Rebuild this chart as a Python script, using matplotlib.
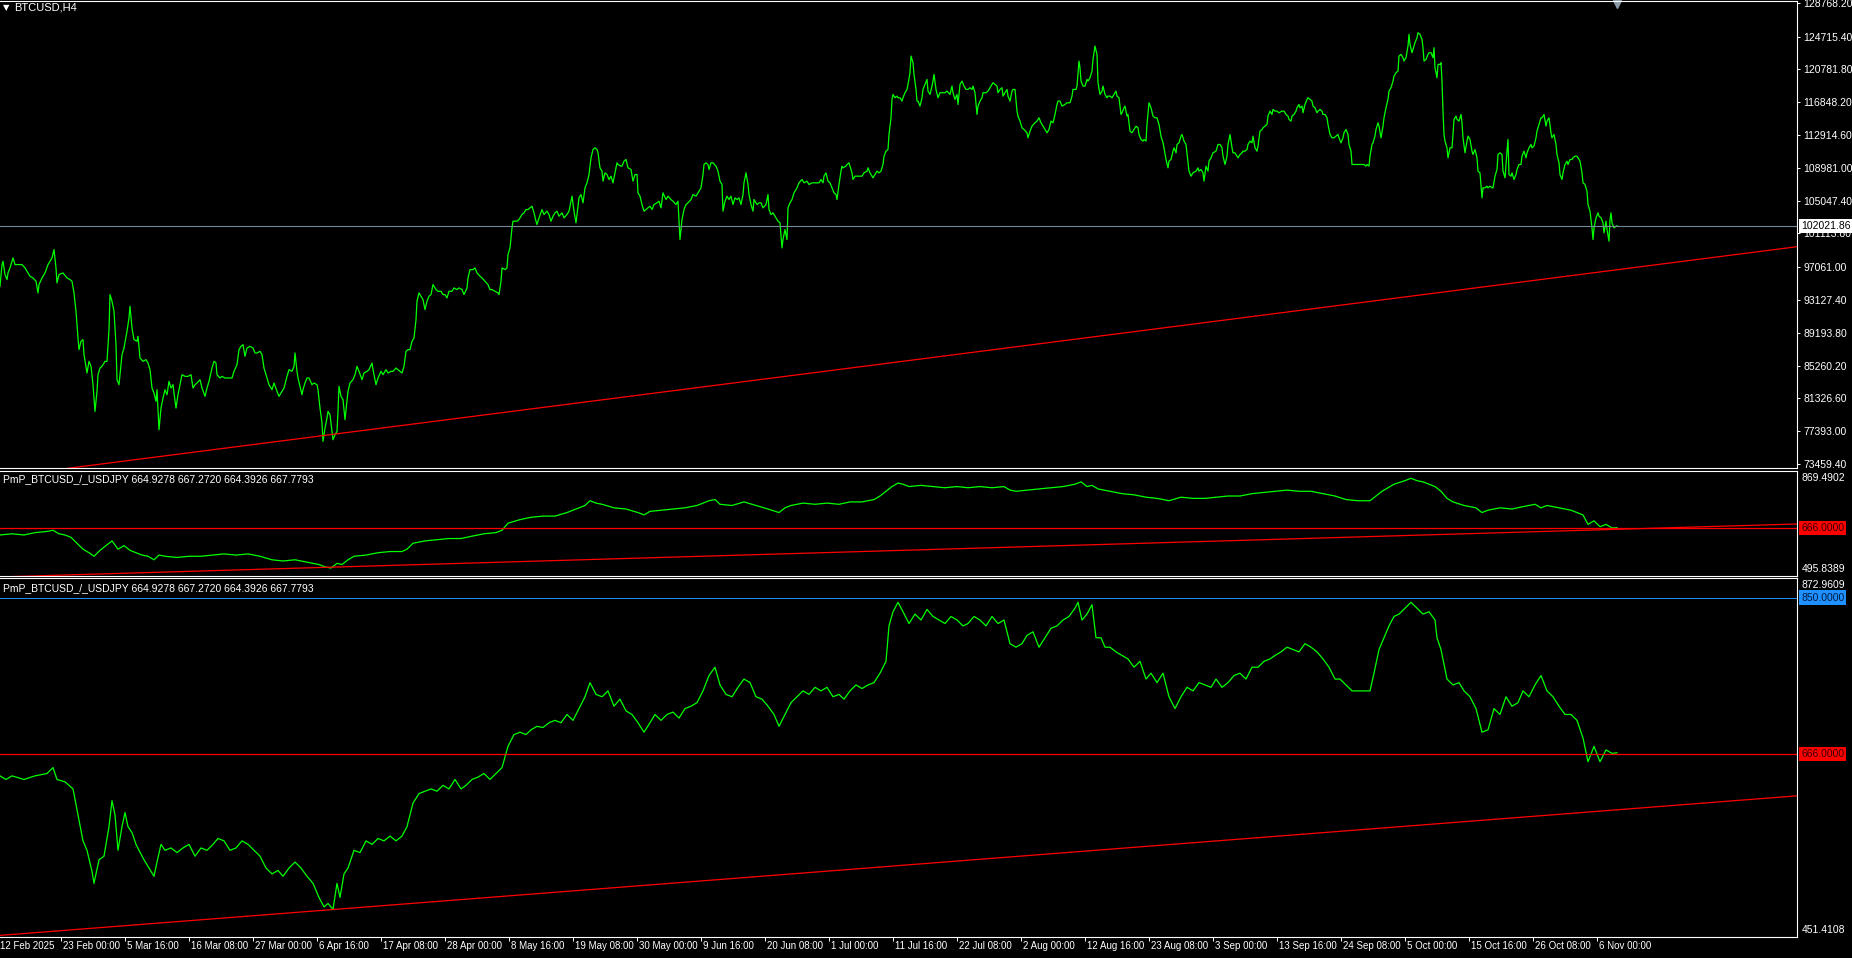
import matplotlib
matplotlib.use("Agg")
import matplotlib.pyplot as plt

plt.rcParams["font.family"] = ["Liberation Sans Narrow", "Liberation Sans", "DejaVu Sans"]

W, H = 1852, 958
PLOT_R = 1797  # right edge of the price panels, px

# BTCUSD H4 close, (bar index, price); bar 0 = 12 Feb 2025 20:00
btc = [
    (0, 94770), (2, 97370), (3, 97770), (5, 96170), (7, 95570), (8, 96370), (10, 96970), (13, 98170),
    (15, 97370), (18, 97370), (22, 97370), (25, 96970), (27, 96570), (30, 95970), (33, 95770), (36, 95370),
    (38, 93970), (39, 94970), (42, 95770), (45, 96370), (48, 97370), (52, 98170), (54, 99170), (56, 96970),
    (57, 95170), (59, 96170), (63, 96370), (67, 95770), (70, 95570), (72, 95370), (74, 93970), (76, 91770),
    (78, 88570), (79, 87170), (81, 88170), (83, 88370), (84, 86570), (87, 84370), (89, 85770), (91, 85170),
    (93, 82970), (95, 79770), (97, 82170), (98, 84170), (100, 84970), (102, 85170), (105, 85770), (107, 85770),
    (109, 89570), (110, 93770), (112, 92970), (114, 91770), (116, 87770), (117, 83570), (119, 82970), (122, 86570),
    (124, 87370), (127, 89370), (129, 90970), (130, 92370), (132, 89770), (134, 88370), (137, 88170), (138, 88770),
    (140, 86170), (143, 85770), (146, 85970), (148, 85570), (150, 84770), (152, 82570), (154, 81970), (156, 80970),
    (157, 82370), (159, 77570), (161, 80170), (163, 81370), (165, 82370), (167, 81770), (169, 83370), (171, 82570),
    (173, 82970), (174, 81970), (176, 80170), (178, 81770), (180, 82970), (182, 84170), (185, 83970), (188, 83970),
    (191, 84170), (193, 82570), (195, 82970), (197, 83170), (200, 83570), (202, 82570), (205, 81570), (207, 82570),
    (209, 83370), (212, 84970), (214, 85770), (216, 85570), (217, 84170), (220, 83770), (222, 83970), (225, 83770),
    (228, 83770), (232, 83770), (234, 84570), (237, 85370), (239, 87170), (241, 87570), (243, 87770), (245, 86370),
    (247, 87370), (250, 87570), (253, 87370), (255, 86770), (257, 86770), (260, 86970), (262, 86570), (264, 84970),
    (267, 83770), (269, 82970), (272, 82370), (274, 83170), (277, 82170), (279, 81570), (282, 82170), (284, 82570),
    (287, 83970), (289, 84770), (292, 84570), (294, 85170), (295, 86770), (297, 84570), (298, 83770), (300, 82770),
    (302, 81770), (303, 82370), (305, 83170), (307, 83770), (309, 83770), (312, 82970), (314, 83170), (317, 82970),
    (318, 82370), (320, 80170), (322, 78370), (323, 76170), (325, 77770), (327, 78970), (328, 79770), (330, 79370),
    (332, 77370), (333, 76370), (335, 76970), (337, 77370), (338, 79770), (339, 82770), (341, 81570), (343, 81170),
    (345, 78770), (347, 80970), (348, 82170), (350, 83170), (353, 83570), (355, 84170), (357, 85170), (359, 84570),
    (362, 83570), (364, 84370), (367, 84570), (369, 84770), (372, 85570), (373, 84770), (376, 82970), (378, 83770),
    (381, 84570), (383, 84170), (386, 84770), (388, 84370), (391, 84570), (393, 84570), (396, 84970), (398, 84770),
    (402, 84370), (404, 85170), (406, 86970), (408, 87170),
    (410, 87170), (412, 88170), (414, 88570), (416, 90770), (417, 92970), (419, 93970), (421, 93570), (423, 93170),
    (425, 91970), (427, 92970), (429, 93570), (431, 93770), (433, 94970), (436, 94370), (438, 94170), (441, 94170),
    (443, 93770), (445, 93770), (447, 93370), (449, 94170), (452, 94170), (454, 94570), (457, 94370), (459, 94570),
    (462, 94370), (464, 93770), (467, 94570), (468, 95770), (470, 96770), (473, 96770), (475, 96970), (477, 96370),
    (480, 95970), (482, 95770), (485, 95370), (488, 94970), (490, 94370), (492, 94370), (495, 94170), (498, 93970),
    (499, 93770), (501, 95370), (502, 96970), (505, 96770), (507, 96970), (508, 98570), (510, 99370), (512, 101770),
    (513, 102570), (515, 102570), (517, 102570), (519, 102770), (522, 103370), (524, 103570), (526, 103970), (528, 103970),
    (530, 104170), (532, 104370), (534, 103570), (536, 102570), (537, 102170), (539, 102970), (542, 103970), (544, 103370),
    (547, 103770), (549, 103370), (551, 102570), (553, 103170), (555, 103570), (557, 103770), (559, 103170), (562, 103570),
    (564, 102970), (567, 103370), (569, 103770), (571, 104970), (572, 105570), (574, 103770), (576, 102370), (578, 104370),
    (579, 105370), (581, 105770), (583, 104770), (585, 106570), (587, 107170), (589, 108170), (591, 110170), (593, 111170),
    (595, 111370), (597, 111170), (598, 110770), (600, 108970), (602, 108570), (603, 107370), (605, 108370), (607, 108170),
    (609, 107570), (611, 107970), (613, 107170), (615, 108370), (617, 109570), (618, 109370), (621, 109170), (622, 109170),
    (624, 109770), (626, 109970), (628, 108970), (631, 108770), (633, 107370), (635, 108170), (637, 108170), (638, 105970),
    (640, 105570), (642, 104570), (644, 103770), (646, 103970), (648, 104170), (650, 104370), (652, 103970), (654, 104570),
    (657, 104770), (659, 104970), (661, 104170), (663, 105970), (666, 105170), (668, 105570), (671, 105170), (673, 104970),
    (676, 104570), (678, 104970), (679, 102570), (680, 100370), (682, 102770), (684, 103970), (686, 104570), (688, 104770),
    (691, 105170), (693, 105770), (696, 105570), (698, 105970), (701, 106570), (703, 108170), (704, 109370), (706, 109570),
    (708, 109370), (709, 108770), (711, 109570), (713, 109570), (716, 109170), (718, 108570), (720, 107370), (722, 106970),
    (723, 103770), (725, 104970), (727, 105570), (729, 105170), (731, 105570), (733, 104570), (735, 105370), (737, 105170),
    (739, 105370), (741, 104570), (743, 105770), (744, 107170), (746, 108370), (748, 106970), (749, 105770), (751, 104570),
    (753, 103770), (754, 105170), (757, 104570), (759, 104770), (761, 104770), (763, 104170), (766, 104570), (768, 105770),
    (769, 103970), (771, 103370), (773, 103570), (776, 102970), (778, 102570), (780, 102370), (782, 99370), (783, 100370),
    (785, 101570), (787, 100370), (788, 104170), (790, 104770), (792, 105170), (794, 105970), (797, 106570), (799, 107170),
    (802, 107570), (804, 107170), (807, 107370), (809, 106970), (812, 107170), (814, 107170),
    (817, 107170), (819, 107170), (821, 107570), (823, 107170), (824, 107970), (826, 108370), (828, 107370), (830, 107170),
    (832, 106570), (834, 105970), (836, 105770), (837, 105170), (839, 106970), (841, 108570), (842, 109170), (843, 108970),
    (846, 109170), (847, 109370), (849, 109570), (851, 108770), (852, 108370), (853, 107570), (855, 107970), (857, 107970),
    (860, 107970), (862, 107970), (864, 108370), (867, 108570), (868, 108970), (870, 108370), (872, 107970), (873, 107770),
    (875, 108170), (877, 108570), (879, 108370), (881, 108570), (883, 109370), (884, 110370), (886, 110970), (888, 111170),
    (889, 112970), (891, 114970), (892, 117170), (893, 117770), (895, 117370), (897, 117570), (898, 117370), (900, 117370),
    (902, 116970), (903, 117370), (905, 117970), (907, 118370), (908, 118970), (910, 120370), (911, 122370), (913, 121570),
    (914, 120170), (916, 118370), (917, 116970), (918, 116970), (920, 116370), (922, 117370), (923, 118370), (925, 118970),
    (927, 119570), (928, 118170), (930, 117770), (932, 118770), (933, 119370), (934, 120170), (936, 118370), (938, 117370),
    (940, 117970), (942, 117970), (945, 117970), (947, 118170), (950, 117770), (952, 118770), (953, 117970), (955, 117170),
    (957, 117770), (958, 116570), (960, 118970), (962, 119370), (964, 118770), (966, 118370), (968, 118370), (970, 118570),
    (972, 118370), (973, 118770), (975, 117970), (977, 115370), (978, 116370), (980, 116970), (982, 117370), (983, 117970),
    (986, 117970), (988, 118170), (990, 118570), (992, 118970), (993, 119170), (995, 118970), (997, 118770), (998, 117970),
    (1000, 118370), (1002, 118570), (1003, 117570), (1005, 117970), (1007, 118370), (1008, 117570), (1010, 116970),
    (1012, 118170), (1013, 118370), (1015, 118370), (1017, 115770), (1018, 115170), (1020, 114570), (1022, 113770),
    (1024, 113570), (1027, 113170), (1028, 112570), (1030, 113370), (1032, 113970), (1035, 114370), (1037, 114570),
    (1039, 114970), (1041, 114370), (1043, 113970), (1045, 113570), (1047, 113170), (1049, 113570), (1051, 114570),
    (1053, 114370), (1055, 115370), (1057, 116570), (1058, 116970), (1060, 116970), (1062, 116370), (1065, 116570),
    (1067, 116770), (1070, 116770), (1072, 117570), (1073, 118370), (1076, 118370), (1077, 118770), (1079, 121770),
    (1080, 120970), (1081, 119370), (1083, 118770), (1085, 118770), (1087, 119570), (1088, 119370), (1090, 119770),
    (1092, 120570), (1093, 121970), (1095, 123570), (1097, 122570), (1098, 119170), (1100, 117770), (1102, 118170),
    (1103, 118770), (1105, 117770), (1107, 117370), (1108, 117570), (1110, 117570), (1112, 117370), (1114, 117770),
    (1116, 118170), (1117, 117570), (1119, 117370), (1121, 115370), (1122, 115570), (1124, 116170), (1125, 116370),
    (1127, 115170), (1128, 115370), (1130, 113370), (1132, 113170), (1134, 113570), (1136, 113970), (1138, 113770),
    (1139, 112970), (1141, 112370), (1143, 112170), (1144, 112370), (1146, 112170), (1147, 114170), (1149, 116770),
    (1151, 116170), (1153, 115170), (1155, 114970), (1157, 114970), (1159, 114170), (1161, 112770), (1163, 111970),
    (1164, 111370), (1166, 109970), (1168, 108970), (1169, 109770), (1171, 109970), (1173, 110970), (1174, 111370),
    (1176, 110770), (1177, 111770), (1179, 111970), (1181, 112770), (1182, 112970), (1184, 112170), (1186, 111770),
    (1188, 109570), (1189, 108570), (1191, 107970), (1193, 108370), (1196, 108570), (1198, 108970), (1199, 108570),
    (1201, 108770), (1203, 108370), (1204, 107370), (1206, 109170), (1208, 108570), (1209, 109770), (1211, 110170),
    (1213, 110770), (1216, 110970), (1218, 111770), (1220, 111770),
    (1222, 111370), (1223, 110370), (1225, 109370), (1227, 110370), (1228, 111770), (1230, 112970), (1232, 111370),
    (1233, 110770), (1235, 110770), (1237, 110370), (1238, 110170), (1240, 110570), (1242, 110770), (1243, 110970),
    (1245, 110970), (1247, 111170), (1248, 111770), (1250, 112170), (1252, 111970), (1253, 112770), (1255, 111370),
    (1257, 110970), (1258, 111570), (1260, 113370), (1262, 113570), (1263, 113770), (1265, 113970), (1267, 114170),
    (1268, 115170), (1270, 115770), (1272, 115370), (1273, 115970), (1275, 115770), (1277, 115770), (1279, 115570),
    (1282, 115770), (1284, 115770), (1286, 115370), (1288, 115170), (1289, 114770), (1291, 114570), (1292, 115170),
    (1294, 115370), (1296, 115770), (1297, 116170), (1299, 116570), (1300, 116170), (1302, 116370), (1303, 115570),
    (1305, 116570), (1307, 117170), (1308, 117370), (1310, 117170), (1312, 116970), (1313, 116370), (1315, 116170),
    (1317, 115570), (1318, 115770), (1320, 115970), (1322, 115770), (1323, 115370), (1325, 115370), (1327, 114970),
    (1328, 114170), (1330, 112970), (1332, 112570), (1334, 112570), (1336, 112770), (1338, 112970), (1339, 112570),
    (1341, 111970), (1343, 112570), (1344, 113170), (1346, 113570), (1348, 112970), (1349, 111770), (1351, 110970),
    (1352, 109370), (1354, 109370), (1357, 109370), (1359, 109370), (1362, 109370), (1364, 109370), (1366, 109170),
    (1367, 109370), (1369, 109170), (1370, 110370), (1372, 111770), (1373, 111970), (1375, 112770), (1376, 113570),
    (1378, 114370), (1379, 113970), (1381, 112570), (1383, 113970), (1384, 114970), (1386, 116170), (1388, 117170),
    (1389, 118170), (1391, 118570), (1393, 119370), (1394, 119970), (1396, 120370), (1398, 120570), (1399, 122370),
    (1401, 122570), (1403, 122170), (1404, 121770), (1406, 122170), (1408, 123570), (1409, 124970), (1410, 123770),
    (1412, 122770), (1413, 123170), (1415, 123970), (1417, 124570), (1418, 125170), (1420, 124970), (1422, 124370),
    (1423, 123370), (1424, 121770), (1426, 121970), (1428, 122570), (1429, 122770), (1431, 122770), (1433, 122170),
    (1434, 123370), (1435, 120970), (1437, 119770), (1438, 121370), (1440, 121370), (1441, 121570), (1442, 119370),
    (1443, 115770), (1444, 112970), (1445, 112170), (1447, 111370), (1448, 110170), (1450, 111370), (1452, 111370),
    (1453, 112970), (1454, 114770), (1456, 115170), (1457, 114770), (1459, 114570), (1461, 115370), (1462, 114370),
    (1463, 112570), (1465, 110770), (1467, 112170), (1468, 112770), (1470, 112370), (1472, 110970), (1473, 110570),
    (1475, 111170), (1477, 110170), (1478, 108570), (1480, 108370), (1482, 105370), (1483, 106570), (1485, 106570),
    (1487, 106770), (1488, 106570), (1490, 106770), (1492, 106570), (1493, 106570), (1495, 107970), (1497, 108770),
    (1498, 110570), (1500, 110770), (1502, 110570), (1503, 108570), (1505, 107770), (1507, 110970), (1508, 112370),
    (1509, 108170), (1511, 107970), (1512, 108370), (1514, 107570), (1516, 108170), (1517, 108770), (1519, 109370),
    (1521, 109370), (1522, 110370), (1524, 110970), (1526, 110170), (1527, 110770), (1529, 111370), (1531, 111770),
    (1532, 111370), (1534, 111570), (1536, 112570), (1537, 113370), (1539, 114170), (1541, 114970), (1542, 114970),
    (1544, 115370), (1546, 113970), (1547, 114570), (1549, 114970), (1551, 113170), (1552, 112570), (1554, 112970),
    (1556, 111770), (1557, 110570), (1559, 109570), (1560, 108170), (1562, 107570), (1563, 108370), (1565, 109370),
    (1567, 109770), (1568, 109370), (1570, 109970), (1572, 109970), (1573, 110170), (1575, 110370), (1577, 110370),
    (1578, 110170), (1580, 109770), (1582, 108370), (1583, 107170), (1585, 106970), (1587, 106170), (1588, 104570),
    (1590, 103770), (1592, 101770), (1593, 100370), (1594, 101770), (1596, 102970), (1598, 103570), (1599, 103170),
    (1601, 102970), (1603, 102370), (1604, 101170), (1606, 102570), (1607, 101570), (1609, 100170), (1610, 102770),
    (1611, 103570), (1612, 102370), (1614, 101770), (1616, 101970), (1617, 102022),
]

# PmP_BTCUSD_/_USDJPY close as drawn in indicator window 1, (bar index, value)
ratio_mid = [
    (0, 641.8), (12, 646.0), (24, 641.8), (35, 650.2), (47, 654.4), (53, 658.6), (59, 646.0), (65, 641.8),
    (71, 633.4), (77, 612.4), (83, 591.3), (89, 578.7), (94, 566.1), (100, 587.1), (106, 604.0), (112, 620.8),
    (118, 591.3), (124, 604.0), (130, 587.1), (136, 578.7), (142, 570.3), (148, 566.1), (154, 553.5), (159, 570.3),
    (165, 566.1), (177, 561.9), (189, 566.1), (201, 566.1), (213, 570.3), (224, 574.5), (236, 570.3), (248, 574.5),
    (260, 566.1), (272, 553.5), (283, 549.3), (295, 553.5), (307, 545.1), (319, 536.7), (325, 528.3), (331, 524.1),
    (337, 540.9), (342, 536.7), (348, 553.5), (354, 566.1), (366, 570.3), (378, 578.7), (390, 582.9), (402, 582.9),
    (407, 591.3), (413, 612.4), (425, 620.8), (437, 625.0), (449, 629.2), (461, 629.2), (472, 637.6), (484, 646.0),
    (496, 650.2), (502, 658.6), (508, 683.8), (520, 696.4), (531, 704.8), (543, 709.0), (555, 709.0), (567, 721.6),
    (579, 738.4), (585, 746.8), (590, 763.7), (596, 755.3), (602, 751.0), (614, 738.4), (626, 734.2), (638, 721.6),
    (644, 713.2), (650, 725.8), (661, 730.0), (673, 734.2), (685, 738.4), (697, 746.8), (709, 763.7), (715, 767.9),
    (720, 751.0), (732, 746.8), (744, 759.5), (756, 746.8), (768, 734.2), (779, 721.6), (785, 738.4), (791, 746.8),
    (803, 755.3), (815, 751.0), (827, 755.3), (839, 751.0), (850, 759.5), (862, 759.5), (874, 767.9), (880, 780.5),
    (886, 797.3), (892, 814.1), (898, 826.7), (903, 822.5), (909, 814.1), (921, 818.3), (933, 814.1), (945, 809.9),
    (957, 814.1), (968, 809.9), (980, 814.1), (992, 809.9), (1004, 814.1), (1010, 801.5), (1016, 797.3), (1027, 801.5),
    (1039, 805.7), (1051, 809.9), (1063, 814.1), (1075, 822.5), (1081, 830.9), (1087, 814.1), (1092, 818.3),
    (1098, 805.7), (1110, 797.3), (1122, 788.9), (1134, 784.7), (1146, 776.3), (1157, 772.1), (1169, 763.7),
    (1181, 776.3), (1193, 772.1), (1205, 772.1), (1216, 776.3), (1228, 780.5), (1240, 780.5), (1252, 788.9),
    (1264, 793.1), (1275, 797.3), (1287, 801.5), (1299, 797.3), (1311, 797.3), (1323, 788.9), (1335, 780.5),
    (1346, 767.9), (1358, 763.7), (1370, 763.7), (1376, 780.5), (1382, 797.3), (1388, 809.9), (1394, 822.5),
    (1405, 835.1), (1411, 843.5), (1417, 835.1), (1423, 830.9), (1429, 822.5), (1435, 814.1), (1441, 797.3),
    (1447, 772.1), (1453, 759.5), (1464, 746.8), (1476, 738.4), (1482, 721.6), (1488, 730.0), (1500, 738.4),
    (1512, 734.2), (1523, 742.6), (1535, 751.0), (1541, 738.4), (1547, 746.8), (1559, 738.4), (1571, 730.0),
    (1583, 713.2), (1588, 679.6), (1594, 692.2), (1600, 671.2), (1606, 679.6), (1612, 667.0), (1617, 667.78),
]

# PmP_BTCUSD_/_USDJPY close as drawn in indicator window 2, (bar index, value)
ratio_bot = [
    (0, 640.6), (6, 636.4), (12, 640.6), (24, 636.4), (35, 640.6), (47, 643.4), (53, 650.3), (57, 636.4),
    (65, 633.6), (73, 625.3), (78, 594.8), (83, 564.3), (87, 553.2), (92, 528.3), (94, 514.4), (99, 542.1),
    (104, 546.3), (109, 581.0), (112, 611.5), (115, 594.8), (118, 553.2), (122, 581.0), (125, 597.6), (128, 581.0),
    (132, 574.0), (136, 560.2), (139, 553.2), (144, 542.1), (149, 532.4), (154, 522.7), (157, 539.4), (161, 560.2),
    (165, 553.2), (171, 556.0), (177, 550.5), (183, 556.0), (189, 560.2), (195, 546.3), (201, 556.0), (207, 553.2),
    (213, 560.2), (218, 567.1), (224, 564.3), (230, 553.2), (236, 556.0), (242, 564.3), (248, 560.2), (254, 553.2),
    (260, 546.3), (266, 532.4), (272, 525.5), (278, 529.6), (283, 522.7), (289, 532.4), (295, 539.4), (301, 532.4),
    (307, 522.7), (313, 514.4), (319, 497.8), (324, 486.7), (328, 490.8), (333, 483.9), (337, 514.4), (340, 497.8),
    (344, 525.5), (348, 532.4), (354, 553.2), (360, 550.5), (366, 564.3), (372, 560.2), (378, 567.1), (384, 564.3),
    (390, 569.9), (396, 564.3), (402, 569.9), (407, 581.0), (413, 608.7), (419, 619.8), (425, 622.6), (431, 625.3),
    (437, 622.6), (443, 629.5), (449, 625.3), (455, 636.4), (461, 625.3), (466, 629.5), (472, 636.4), (478, 639.2),
    (484, 643.4), (490, 636.4), (496, 643.4), (502, 650.3), (508, 675.3), (514, 689.1), (520, 691.9), (526, 689.1),
    (531, 694.7), (537, 698.8), (543, 697.4), (549, 703.0), (555, 705.8), (561, 703.0), (567, 712.7), (573, 705.8),
    (579, 719.6), (585, 733.5), (590, 750.1), (596, 736.3), (602, 733.5), (608, 740.4), (614, 722.4), (620, 730.7),
    (626, 716.9), (632, 712.7), (638, 703.0), (644, 691.9), (650, 703.0), (655, 712.7), (661, 705.8), (667, 712.7),
    (673, 715.5), (679, 708.5), (685, 719.6), (691, 722.4), (697, 726.6), (703, 740.4), (709, 758.4), (715, 768.2),
    (720, 747.4), (726, 736.3), (732, 733.5), (738, 744.6), (744, 754.3), (750, 750.1), (756, 733.5), (762, 730.7),
    (768, 722.4), (774, 712.7), (779, 698.8), (785, 712.7), (791, 726.6), (797, 733.5), (803, 740.4), (809, 736.3),
    (815, 744.6), (821, 740.4), (827, 744.6), (833, 733.5), (839, 736.3), (844, 730.7), (850, 740.4), (856, 747.4),
    (862, 743.2), (868, 747.4), (874, 750.1), (880, 761.2), (886, 775.1), (889, 816.7), (893, 833.3), (898, 844.4),
    (903, 833.3), (909, 819.5), (915, 830.6), (921, 823.6), (927, 836.1), (933, 827.8), (939, 823.6), (945, 819.5),
    (951, 827.8), (957, 823.6), (963, 816.7), (968, 819.5), (974, 827.8), (980, 823.6), (986, 816.7), (992, 827.8),
    (998, 819.5), (1004, 823.6), (1010, 795.9), (1016, 791.7), (1022, 795.9), (1027, 805.6), (1033, 809.8),
    (1039, 791.7), (1045, 802.8), (1051, 813.9), (1057, 816.7), (1063, 823.6), (1069, 827.8), (1075, 837.5),
    (1078, 844.4), (1082, 823.6), (1087, 830.6), (1092, 841.6), (1096, 802.8), (1101, 802.8), (1105, 791.7),
    (1110, 791.7), (1116, 786.2), (1122, 782.0), (1128, 777.9), (1134, 768.2), (1140, 775.1), (1146, 754.3),
    (1151, 761.2), (1157, 750.1), (1163, 761.2), (1169, 733.5), (1175, 719.6), (1181, 733.5), (1187, 744.6),
    (1193, 740.4), (1199, 750.1), (1205, 747.4), (1211, 744.6), (1216, 754.3), (1222, 744.6), (1228, 750.1),
    (1234, 758.4), (1240, 761.2), (1246, 754.3), (1252, 768.2), (1258, 768.2), (1264, 775.1), (1270, 777.9),
    (1275, 782.0), (1281, 786.2), (1287, 791.7), (1293, 788.9), (1299, 786.2), (1305, 795.9), (1311, 791.7),
    (1317, 786.2), (1323, 777.9), (1329, 768.2), (1335, 754.3), (1340, 754.3), (1346, 747.4), (1352, 740.4),
    (1358, 740.4), (1364, 740.4), (1370, 740.4), (1374, 761.2), (1379, 788.9), (1384, 802.8), (1389, 816.7),
    (1394, 827.8), (1399, 830.6), (1405, 837.5), (1411, 844.4), (1417, 837.5), (1423, 830.6), (1429, 833.3),
    (1435, 823.6), (1437, 802.8), (1441, 788.9), (1447, 754.3), (1453, 747.4), (1459, 750.1), (1464, 740.4),
    (1470, 733.5), (1476, 719.6), (1482, 691.9), (1488, 694.7), (1494, 719.6), (1500, 712.7), (1506, 733.5),
    (1512, 722.4), (1518, 726.6), (1523, 740.4), (1529, 733.5), (1535, 747.4), (1541, 758.4), (1547, 740.4),
    (1553, 733.5), (1559, 722.4), (1565, 712.7), (1571, 712.7), (1577, 705.8), (1583, 685.0), (1588, 657.2),
    (1594, 675.3), (1600, 657.2), (1606, 671.1), (1612, 667.0), (1617, 667.78),
]

btc_ticks = [128768.20, 124715.40, 120781.80, 116848.20, 112914.60, 108981.00, 105047.40,
             101113.80, 97061.00, 93127.40, 89193.80, 85260.20, 81326.60, 77393.00, 73459.40]
btc_range = (72981, 128972)
bid_price = 102021.86
mid_range = (495.8389, 869.4902)
bot_range = (451.4108, 872.9609)
level_666 = 666.0
level_850 = 850.0

# trend lines, two anchor points each (bar, value)
btc_trend = [(405, 78125), (1625, 96871)]
mid_trend = [(55, 498.3), (1797, 680.9)]
bot_trend = [(0, 453.3), (1795, 617.0)]

symbol_title = "BTCUSD,H4"
indicator_title = "PmP_BTCUSD_/_USDJPY 664.9278 667.2720 664.3926 667.7793"
time_labels = ["12 Feb 2025", "23 Feb 00:00", "5 Mar 16:00", "16 Mar 08:00", "27 Mar 00:00",
               "6 Apr 16:00", "17 Apr 08:00", "28 Apr 00:00", "8 May 16:00", "19 May 08:00",
               "30 May 00:00", "9 Jun 16:00", "20 Jun 08:00", "1 Jul 00:00", "11 Jul 16:00",
               "22 Jul 08:00", "2 Aug 00:00", "12 Aug 16:00", "23 Aug 08:00", "3 Sep 00:00",
               "13 Sep 16:00", "24 Sep 08:00", "5 Oct 00:00", "15 Oct 16:00", "26 Oct 08:00",
               "6 Nov 00:00"]
time_bars = [0] + [61 + 64 * k for k in range(len(time_labels) - 1)]

GREEN = "#00FF00"
RED = "#FF0000"
GREY = "#778899"


def panel(top, bottom):
    ax = fig.add_axes([0, 1 - bottom / H, PLOT_R / W, (bottom - top) / H])
    ax.set_facecolor("black")
    ax.set_xlim(0, PLOT_R)
    for side in ("top", "bottom", "right"):
        ax.spines[side].set_color("white")
        ax.spines[side].set_linewidth(0.8)
    ax.spines["left"].set_visible(False)
    ax.set_xticks([])
    ax.yaxis.tick_right()
    ax.tick_params(axis="y", colors="white", length=2.2, width=0.7, labelsize=7.5, pad=2.2)
    return ax


def trend(ax, pts):
    (x0, y0), (x1, y1) = pts
    k = (y1 - y0) / (x1 - x0)
    ax.plot([0, PLOT_R], [y0 - k * x0, y0 + k * (PLOT_R - x0)], color=RED, lw=0.9)


def price_box(ax, value, text, fc, tc):
    ax.text(1 + 4 / PLOT_R, value, text, transform=ax.get_yaxis_transform(),
            ha="left", va="center", fontsize=7.5, color=tc, clip_on=False, zorder=5,
            bbox=dict(boxstyle="square,pad=0.2", fc=fc, ec="none"))


def edge_label(ax, text, top):
    ax.annotate(text, xy=(1, 1 if top else 0), xycoords="axes fraction",
                xytext=(5, -7 if top else 7), textcoords="offset pixels",
                ha="left", va="center", fontsize=7.5, color="white", annotation_clip=False)


fig = plt.figure(figsize=(W / 100, H / 100), dpi=100, facecolor="black")

bx, by = zip(*btc)
mx, my = zip(*ratio_mid)
rx, ry = zip(*ratio_bot)

# main price window
ax1 = panel(1, 468)
ax1.plot(bx, by, color=GREEN, lw=0.9)
ax1.axhline(bid_price, color=GREY, lw=0.8)
trend(ax1, btc_trend)
ax1.set_ylim(*btc_range)
ax1.set_yticks(btc_ticks)
ax1.set_yticklabels([f"{v:.2f}" for v in btc_ticks])
price_box(ax1, bid_price, f"{bid_price:.2f}", "white", "black")
ax1.plot([bx[-1]], [1 - 3 / 467], marker="v", ms=6, color="#8a9aa9",
         transform=ax1.get_xaxis_transform(), clip_on=False)
fig.text(3 / W, 1 - 8 / H, "\u25bc", fontsize=6, color="white", va="center",
         family=["DejaVu Sans"])
fig.text(14 / W, 1 - 8 / H, symbol_title, fontsize=8, color="white", va="center")

# indicator window 1
ax2 = panel(471, 576)
ax2.plot(mx, my, color=GREEN, lw=0.9)
ax2.axhline(level_666, color=RED, lw=0.9)
trend(ax2, mid_trend)
ax2.set_ylim(*mid_range)
ax2.set_yticks([])
edge_label(ax2, f"{mid_range[1]:.4f}", True)
edge_label(ax2, f"{mid_range[0]:.4f}", False)
price_box(ax2, level_666, f"{level_666:.4f}", RED, "#3a0000")
ax2.annotate(indicator_title, xy=(0, 1), xycoords="axes fraction", xytext=(3, -8),
             textcoords="offset pixels", va="center", fontsize=7.5, color="white")

# indicator window 2
ax3 = panel(578, 937)
ax3.plot(rx, ry, color=GREEN, lw=0.9)
ax3.axhline(level_666, color=RED, lw=0.9)
ax3.axhline(level_850, color="#1E90FF", lw=0.7)
trend(ax3, bot_trend)
ax3.set_ylim(*bot_range)
ax3.set_yticks([])
edge_label(ax3, f"{bot_range[1]:.4f}", True)
edge_label(ax3, f"{bot_range[0]:.4f}", False)
price_box(ax3, level_666, f"{level_666:.4f}", RED, "#3a0000")
price_box(ax3, level_850, f"{level_850:.4f}", "#1E90FF", "#001a40")
ax3.annotate(indicator_title, xy=(0, 1), xycoords="axes fraction", xytext=(3, -10),
             textcoords="offset pixels", va="center", fontsize=7.5, color="white")

# time scale
ax3.set_xticks(time_bars[1:])
ax3.tick_params(axis="x", colors="white", length=3, width=0.7, labelbottom=False)
for b, lab in zip(time_bars, time_labels):
    ax3.annotate(lab, xy=(b, 0), xycoords=("data", "axes fraction"),
                 xytext=(2 if b else 0, -9), textcoords="offset pixels",
                 ha="left", va="center", fontsize=7, color="white", annotation_clip=False)

fig.savefig("out.png", dpi=100, facecolor="black")
